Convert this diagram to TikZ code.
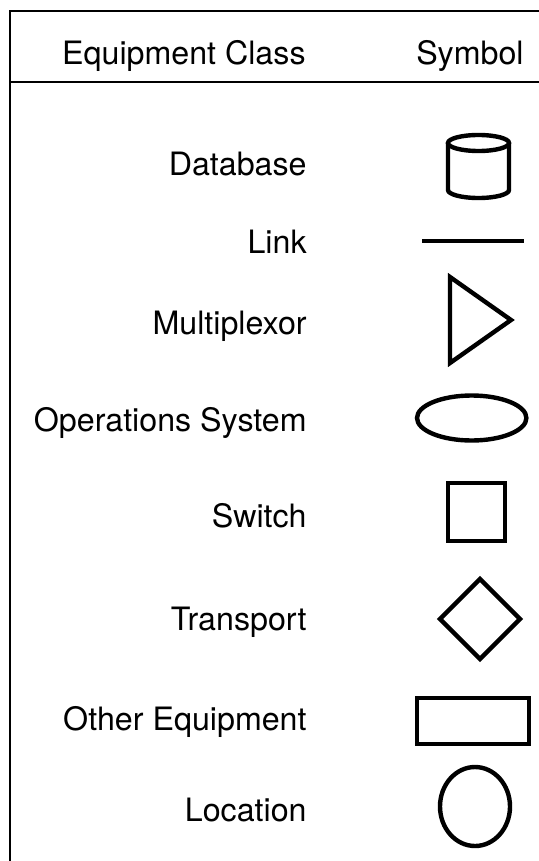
\documentclass[tikz,border=0pt]{standalone}
\usepackage{fontspec}
\setmainfont{TeX Gyre Heros}
\usepackage{tikz}
\usetikzlibrary{positioning, calc}
\definecolor{RuleColor}{RGB}{0,0,0}
\definecolor{SymbolColor}{RGB}{0,0,0}
\tikzstyle{rule} = [line width=1.2pt, RuleColor]
\tikzstyle{symbol} = [line width=2.2pt, SymbolColor]
\tikzstyle{classlabel} = [anchor=base east, inner sep=0pt, font=\fontsize{16.1}{19}\selectfont]

\begin{document}
\begin{tikzpicture}[x=0.5pt, y=-0.5pt]
    \useasboundingbox (0,0) rectangle (539,861);

    % Table frame
    \coordinate (topleft) at (10,11);
    \coordinate (topright) at (539,11);
    \coordinate (headleft) at (10,82);
    \coordinate (headright) at (539,82);
    \coordinate (bottomleft) at (10,861);
    \draw[rule] (topright) -- (topleft) -- (bottomleft);
    \draw[rule] (headleft) -- (headright);

    % Header
    \node[classlabel] (hdrclass) at (306,65) {Equipment Class};
    \node[classlabel] (hdrsymbol) at (524,65) {Symbol};

    % Class names
    \node[classlabel] (lbldatabase) at (307,176) {Database};
    \node[classlabel] (lbllink) at (307,253) {Link};
    \node[classlabel] (lblmux) at (307,334) {Multiplexor};
    \node[classlabel] (lblopsys) at (307,431) {Operations System};
    \node[classlabel] (lblswitch) at (307,527) {Switch};
    \node[classlabel] (lbltransport) at (307,630) {Transport};
    \node[classlabel] (lblother) at (307,730) {Other Equipment};
    \node[classlabel] (lbllocation) at (307,821) {Location};

    % Database
    \draw[symbol] (478.5,143) ellipse[x radius=30.5, y radius=8];
    \draw[symbol] (448,143) -- (448,190)
        arc[start angle=180, end angle=0, x radius=30.5, y radius=8] -- (509,143);

    % Link
    \draw[symbol] (422,241) -- (524,241);

    % Multiplexor
    \draw[symbol] (450,277) -- (511,320) -- (450,363) -- cycle;

    % Operations System
    \draw[symbol] (471.7,418) ellipse[x radius=54.7, y radius=22.5];

    % Switch
    \draw[symbol] (448,483) rectangle (505,541);

    % Transport
    \draw[symbol] (480,579) -- (520,619) -- (480,659) -- (440,619) -- cycle;

    % Other Equipment
    \draw[symbol] (417,698) rectangle (529,744);

    % Location
    \draw[symbol] (475,806.5) ellipse[x radius=35, y radius=39.5];
\end{tikzpicture}
\end{document}
